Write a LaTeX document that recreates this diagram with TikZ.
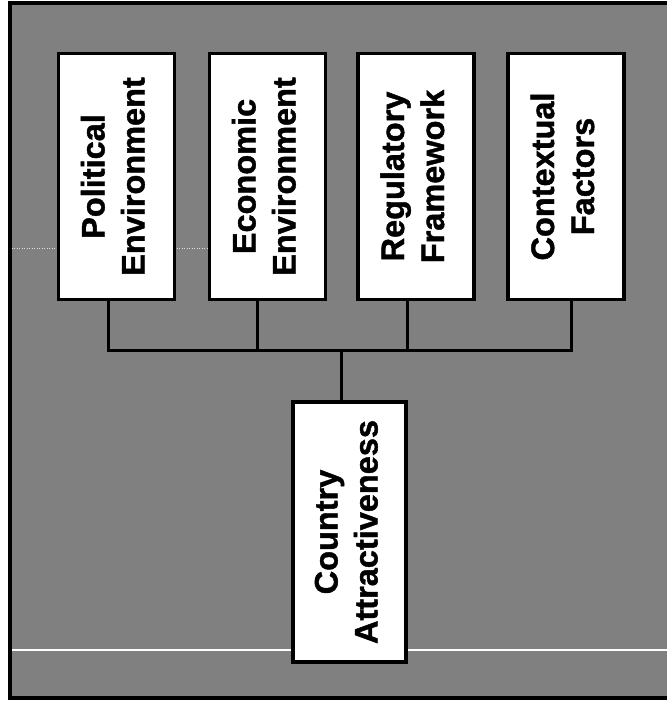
\documentclass[tikz,border=0pt]{standalone}
\usepackage{graphicx}
\usepackage{fontspec}
\setmainfont{Liberation Sans}[BoldFeatures={FakeBold=1.3}]
\definecolor{scan}{RGB}{128,128,128}
% two-line label set sideways, reading upwards
\newcommand\vlabel[1]{\rotatebox{90}{\begin{tabular}{@{}c@{}}#1\end{tabular}}}
\begin{document}
\begin{tikzpicture}[x=1pt,y=-1pt,
  factor/.style={draw=black, line width=3.3pt, fill=white, inner sep=0pt,
    minimum width=116pt, minimum height=246pt,
    font=\bfseries\fontsize{32.5}{40}\selectfont},
  outcome/.style={factor, minimum width=113pt, minimum height=260pt},
  link/.style={draw=black, line width=3pt, line cap=rect}]
\useasboundingbox (0,0) rectangle (667,706);
\fill[white] (0,0) rectangle (667,706);
% shaded panel with its frame (open to the right)
\fill[scan] (10,3) rectangle (667,698);
\draw[black, line width=3.3pt] (667,3) -- (10,3) -- (10,698) -- (667,698);
% light streaks across the panel
\draw[white, line width=1.3pt] (11.5,650) -- (667,650);
\draw[white!75!scan, line width=1pt, dash pattern=on 1pt off 1.5pt] (11.5,248) -- (210,248);

% junction points of the tree
\coordinate (j1) at (108,350);
\coordinate (j2) at (257,350);
\coordinate (j3) at (407,350);
\coordinate (j4) at (571,350);
\coordinate (hub) at (341,350);

% factors
\node[factor] (b1) at (116.5,176.5) {\vlabel{Political\\Environment}};
\node[factor] (b2) at (267.5,176.5) {\vlabel{Economic\\Environment}};
\node[factor] (b3) at (416,176.5) {\vlabel{Regulatory\\Framework}};
\node[factor] (b4) at (566,176.5) {\vlabel{Contextual\\Factors}};
% result
\node[outcome] (ca) at (349.5,532) {\vlabel{Country\\Attractiveness}};

% connectors
\draw[link] (b1.south -| j1) -- (j1) -- (j4) -- (b4.south -| j4);
\draw[link] (b2.south -| j2) -- (j2);
\draw[link] (b3.south -| j3) -- (j3);
\draw[link] (hub) -- (ca.north -| hub);
\end{tikzpicture}
\end{document}
